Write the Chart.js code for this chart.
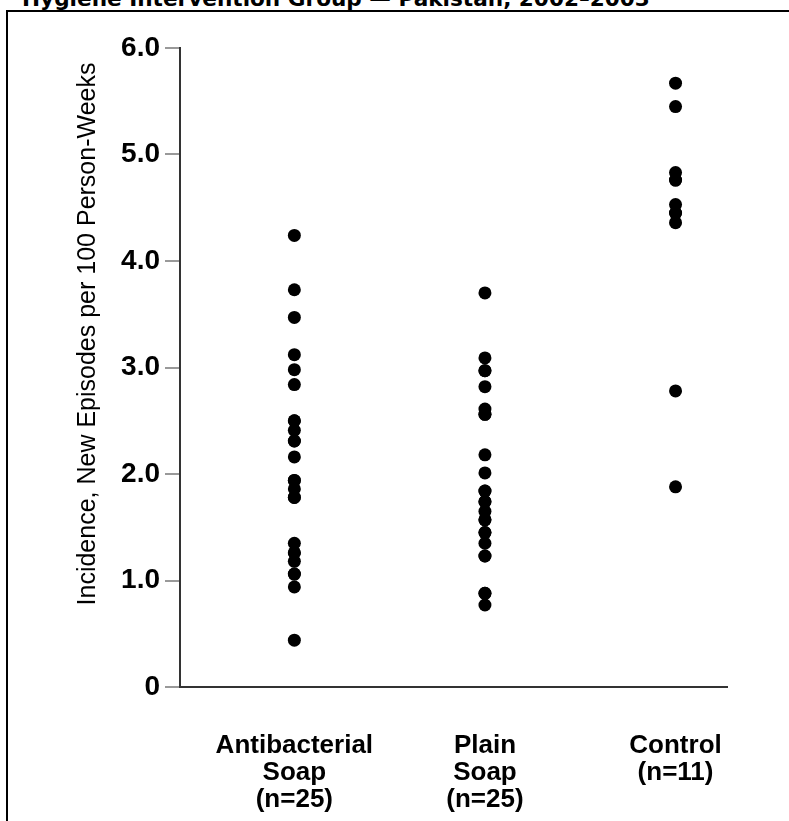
<!DOCTYPE html>
<html>
<head>
<meta charset="utf-8">
<script src="https://cdn.jsdelivr.net/npm/chart.js@4"></script>
<style>
  html, body { margin:0; padding:0; background:#fff; overflow:hidden; }
  #wrap { position:relative; width:789px; height:821px; }
  #frame { position:absolute; left:6px; top:10px; right:-10px; bottom:-10px; border-left:2px solid #000; border-top:2px solid #000; }
  #title { position:absolute; left:22px; top:-12px; font:bold 21.6px "DejaVu Sans"; line-height:22px; white-space:nowrap; color:#000; }
  canvas { position:absolute; left:0; top:0; }
</style>
</head>
<body>
<div id="wrap">
  <div id="title">Hygiene Intervention Group — Pakistan, 2002–2003</div>
  <div id="frame"></div>
  <canvas id="chart" width="789" height="821"></canvas>
</div>
<script>
// ===== Data =====
const groups = [["Antibacterial","Soap","(n=25)"], ["Plain","Soap","(n=25)"], ["Control","(n=11)"]];
const antibacterial = [4.24, 3.73, 3.47, 3.12, 2.98, 2.84, 2.50, 2.50, 2.41, 2.31, 2.31, 2.16, 1.94, 1.94, 1.86, 1.78, 1.78, 1.35, 1.26, 1.26, 1.18, 1.06, 1.06, 0.94, 0.44];
const plain = [3.70, 3.09, 2.97, 2.97, 2.82, 2.61, 2.56, 2.56, 2.18, 2.01, 1.84, 1.84, 1.74, 1.74, 1.65, 1.57, 1.57, 1.45, 1.45, 1.35, 1.23, 1.23, 0.88, 0.88, 0.77];
const control = [5.67, 5.45, 4.83, 4.76, 4.76, 4.53, 4.45, 4.45, 4.36, 2.78, 1.88];
const yTicks = [0, 1, 2, 3, 4, 5, 6];
const yTitle = "Incidence, New Episodes per 100 Person-Weeks";

const series = [antibacterial, plain, control];
const points = [];
series.forEach((vals, i) => vals.forEach(v => points.push({x: i + 1, y: v})));

// y axis title, drawn rotated left of the ticks
const yTitlePlugin = {
  id: "yTitle",
  afterDraw(chart){
    const ctx = chart.ctx;
    ctx.save();
    ctx.translate(88, 334);
    ctx.rotate(-Math.PI / 2);
    ctx.font = "25px 'Liberation Sans', Arial";
    ctx.fillStyle = "#000";
    ctx.textAlign = "center";
    ctx.textBaseline = "middle";
    ctx.fillText(yTitle, 0, 0);
    ctx.restore();
  }
};

new Chart(document.getElementById("chart"), {
  type: "scatter",
  data: { datasets: [{ data: points, backgroundColor: "#000", borderWidth: 0, pointRadius: 6.5, pointHoverRadius: 6.5 }] },
  options: {
    responsive: false,
    animation: false,
    layout: { padding: { top: 48, right: 62, left: 0, bottom: 0 } },
    plugins: { legend: { display: false }, tooltip: { enabled: false } },
    scales: {
      x: {
        type: "linear", min: 0.4, max: 3.27,
        grid: { drawOnChartArea: false, drawTicks: false },
        border: { display: true, color: "#333", width: 2 },
        afterBuildTicks: s => { s.ticks = groups.map((g, i) => ({ value: i + 1 })); },
        afterFit: s => { s.height = 134; },
        ticks: {
          padding: 45,
          color: "#000",
          font: { family: "'Liberation Sans', Arial", size: 26, weight: "bold", lineHeight: 1.05 },
          callback: v => groups[v - 1] || ""
        }
      },
      y: {
        min: 0, max: 6,
        grid: { drawOnChartArea: false, drawTicks: true, tickLength: 15, color: "#999", lineWidth: 2 },
        border: { display: true, color: "#333", width: 2 },
        afterBuildTicks: s => { s.ticks = yTicks.map(v => ({ value: v })); },
        afterFit: s => { s.width = 180; },
        ticks: {
          padding: 5,
          color: "#000",
          font: { family: "'Liberation Sans', Arial", size: 28, weight: "bold" },
          callback: v => v === 0 ? "0" : v.toFixed(1)
        }
      }
    }
  },
  plugins: [yTitlePlugin]
});
</script>
</body>
</html>
